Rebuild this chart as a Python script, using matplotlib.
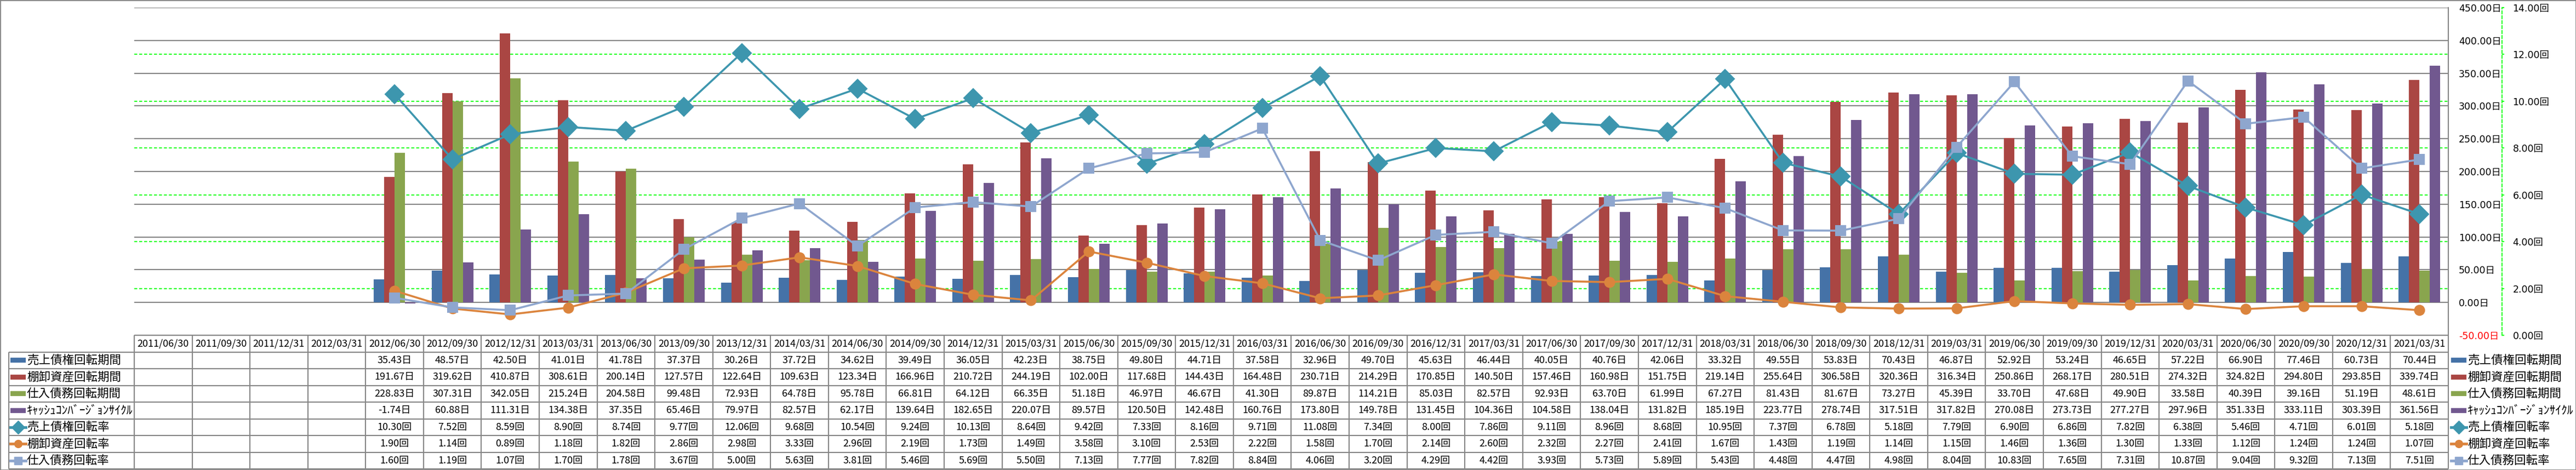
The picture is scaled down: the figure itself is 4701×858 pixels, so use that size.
import matplotlib
matplotlib.use("Agg")
import matplotlib.pyplot as plt
import matplotlib.transforms as mtransforms
from matplotlib import font_manager
from matplotlib.lines import Line2D
from matplotlib.patches import Rectangle
import numpy as np

plt.rcParams["font.family"] = ["DejaVu Sans", "Noto Sans CJK JP"]

#
# Data
#
dates = ["2011/06/30", "2011/09/30", "2011/12/31", "2012/03/31",
         "2012/06/30", "2012/09/30", "2012/12/31", "2013/03/31",
         "2013/06/30", "2013/09/30", "2013/12/31", "2014/03/31",
         "2014/06/30", "2014/09/30", "2014/12/31", "2015/03/31",
         "2015/06/30", "2015/09/30", "2015/12/31", "2016/03/31",
         "2016/06/30", "2016/09/30", "2016/12/31", "2017/03/31",
         "2017/06/30", "2017/09/30", "2017/12/31", "2018/03/31",
         "2018/06/30", "2018/09/30", "2018/12/31", "2019/03/31",
         "2019/06/30", "2019/09/30", "2019/12/31", "2020/03/31",
         "2020/06/30", "2020/09/30", "2020/12/31", "2021/03/31"]
n_blank = 4  # first four quarters have no figures

receivable_days = [35.43, 48.57, 42.50, 41.01, 41.78, 37.37, 30.26, 37.72, 34.62, 39.49, 36.05, 42.23,
                   38.75, 49.80, 44.71, 37.58, 32.96, 49.70, 45.63, 46.44, 40.05, 40.76, 42.06, 33.32,
                   49.55, 53.83, 70.43, 46.87, 52.92, 53.24, 46.65, 57.22, 66.90, 77.46, 60.73, 70.44]
inventory_days = [191.67, 319.62, 410.87, 308.61, 200.14, 127.57, 122.64, 109.63, 123.34, 166.96, 210.72, 244.19,
                  102.00, 117.68, 144.43, 164.48, 230.71, 214.29, 170.85, 140.50, 157.46, 160.98, 151.75, 219.14,
                  255.64, 306.58, 320.36, 316.34, 250.86, 268.17, 280.51, 274.32, 324.82, 294.80, 293.85, 339.74]
payable_days = [228.83, 307.31, 342.05, 215.24, 204.58, 99.48, 72.93, 64.78, 95.78, 66.81, 64.12, 66.35,
                51.18, 46.97, 46.67, 41.30, 89.87, 114.21, 85.03, 82.57, 92.93, 63.70, 61.99, 67.27,
                81.43, 81.67, 73.27, 45.39, 33.70, 47.68, 49.90, 33.58, 40.39, 39.16, 51.19, 48.61]
ccc_days = [-1.74, 60.88, 111.31, 134.38, 37.35, 65.46, 79.97, 82.57, 62.17, 139.64, 182.65, 220.07,
            89.57, 120.50, 142.48, 160.76, 173.80, 149.78, 131.45, 104.36, 104.58, 138.04, 131.82, 185.19,
            223.77, 278.74, 317.51, 317.82, 270.08, 273.73, 277.27, 297.96, 351.33, 333.11, 303.39, 361.56]
receivable_turn = [10.30, 7.52, 8.59, 8.90, 8.74, 9.77, 12.06, 9.68, 10.54, 9.24, 10.13, 8.64,
                   9.42, 7.33, 8.16, 9.71, 11.08, 7.34, 8.00, 7.86, 9.11, 8.96, 8.68, 10.95,
                   7.37, 6.78, 5.18, 7.79, 6.90, 6.86, 7.82, 6.38, 5.46, 4.71, 6.01, 5.18]
inventory_turn = [1.90, 1.14, 0.89, 1.18, 1.82, 2.86, 2.98, 3.33, 2.96, 2.19, 1.73, 1.49,
                  3.58, 3.10, 2.53, 2.22, 1.58, 1.70, 2.14, 2.60, 2.32, 2.27, 2.41, 1.67,
                  1.43, 1.19, 1.14, 1.15, 1.46, 1.36, 1.30, 1.33, 1.12, 1.24, 1.24, 1.07]
payable_turn = [1.60, 1.19, 1.07, 1.70, 1.78, 3.67, 5.00, 5.63, 3.81, 5.46, 5.69, 5.50,
                7.13, 7.77, 7.82, 8.84, 4.06, 3.20, 4.29, 4.42, 3.93, 5.73, 5.89, 5.43,
                4.48, 4.47, 4.98, 8.04, 10.83, 7.65, 7.31, 10.87, 9.04, 9.32, 7.13, 7.51]

bar_names = ["売上債権回転期間", "棚卸資産回転期間", "仕入債務回転期間", "ｷｬｯｼｭｺﾝﾊﾞｰｼﾞｮﾝｻｲｸﾙ"]
line_names = ["売上債権回転率", "棚卸資産回転率", "仕入債務回転率"]
bar_colors = ["#4572A7", "#AA4643", "#89A54E", "#71588F"]
line_colors = ["#3D96AE", "#DB843D", "#8EA6CE"]
line_markers = ["D", "o", "s"]
day_ticks = np.arange(-50, 451, 50)
turn_ticks = np.arange(0, 15, 2)

bar_series = [receivable_days, inventory_days, payable_days, ccc_days]
line_series = [receivable_turn, inventory_turn, payable_turn]

#
# Figure / fonts
#
W, H = 4701, 858
fig = plt.figure(figsize=(W / 100, H / 100), dpi=100)

jp = ["Noto Sans CJK JP", "DejaVu Sans"]
avail = {f.name for f in font_manager.fontManager.ttflist}
if "Liberation Sans Narrow" in avail:
    num_font, num_size = ["Liberation Sans Narrow", "Noto Sans CJK JP"], 16.5
else:
    num_font, num_size = ["Noto Sans CJK JP"], 13
grid_c = "#868686"

# layer for the table, in pixel coords
tab = fig.add_axes([0, 0, 1, 1])
tab.set_xlim(0, W)
tab.set_ylim(H, 0)
tab.axis("off")

# plot area
L, R, T, B = 245, 4468, 14, 612
ax = fig.add_axes([L / W, 1 - B / H, (R - L) / W, (B - T) / H])
ax2 = ax.twinx()

n = len(dates)
x = np.arange(n) + 0.5
xs = x[n_blank:]
bw = 0.18
for k, (vals, c) in enumerate(zip(bar_series, bar_colors)):
    ax.bar(xs + (k - 1.5) * bw, vals, bw, color=c, zorder=2)

ms_list = [17, 13, 13]
for vals, c, m, ms in zip(line_series, line_colors, line_markers, ms_list):
    ax2.plot(xs, vals, color=c, lw=2.6, marker=m, ms=ms, mec=c, mew=1.5, zorder=3)

ax.set_xlim(0, n)
ax.set_ylim(-50, 450)
ax.set_yticks(day_ticks)
ax.yaxis.grid(True, color=grid_c, lw=1.5)
ax.set_axisbelow(True)
ax.set_xticks([])
for s in ("left", "top", "bottom"):
    ax.spines[s].set_visible(False)
ax.spines["right"].set_color(grid_c)
ax.spines["right"].set_linewidth(1.5)
ax.yaxis.tick_right()
ax.tick_params(axis="y", length=0, pad=13.5, labelsize=12.5)
ax.set_yticklabels([f"{v:.2f}日" for v in day_ticks])
ax.get_yticklabels()[0].set_color("red")

ax2.set_ylim(0, 14)
ax2.set_yticks(turn_ticks)
ax2.set_yticklabels([f"{v:.2f}回" for v in turn_ticks])
for s in ("left", "top", "bottom"):
    ax2.spines[s].set_visible(False)
ax2.spines["right"].set_position(("axes", (4566 - L) / (R - L)))
ax2.spines["right"].set_color("#00FF00")
ax2.spines["right"].set_linestyle((0, (3, 2)))
ax2.spines["right"].set_linewidth(1.3)
ax2.tick_params(axis="y", colors="#00FF00", length=3, width=1.3, pad=11, labelsize=12.5, labelcolor="black")

# secondary grid (green dashed) behind the bars
trans = mtransforms.blended_transform_factory(ax.transAxes, ax2.transData)
for v in turn_ticks[1:-1]:
    ax.add_line(Line2D([0, 1], [v, v], transform=trans, color="#00FF00",
                       lw=1.3, ls=(0, (3, 2)), zorder=1))

#
# Data table
#
colw = (R - L) / n
row_h = 30.5
rows_y = B + row_h * np.arange(9)
tab.hlines(rows_y[0], L, R, color=grid_c, lw=1.5)
tab.hlines(rows_y[1:], 16, R, color=grid_c, lw=1.5)
tab.vlines(L + colw * np.arange(n + 1), rows_y[0], rows_y[-1], color=grid_c, lw=1.5)
tab.vlines(16, rows_y[1], rows_y[-1], color=grid_c, lw=1.5)

hy = (rows_y[0] + rows_y[1]) / 2
for j, d in enumerate(dates):
    tab.text(L + colw * (j + 0.5), hy, d, ha="center", va="center",
             family=num_font, size=num_size)

all_series = bar_series + line_series
units = ["日"] * 4 + ["回"] * 3
for r, (vals, unit) in enumerate(zip(all_series, units)):
    yc = (rows_y[r + 1] + rows_y[r + 2]) / 2
    for j, v in enumerate(vals):
        tab.text(L + colw * (j + n_blank + 0.5), yc, f"{v:.2f}{unit}", ha="center",
                 va="center", family=num_font, size=num_size)


def legend_key(x0, yc, r, name):
    if r < 4:
        tab.add_patch(Rectangle((x0, yc - 4.5), 28, 9, color=bar_colors[r], lw=0))
    else:
        i = r - 4
        tab.plot([x0, x0 + 28], [yc, yc], color=line_colors[i], lw=3.5)
        tab.plot([x0 + 14], [yc], marker=line_markers[i], color=line_colors[i],
                 ms=12 if i == 0 else 10)
    tab.text(x0 + 30, yc, name, ha="left", va="center", family=jp, size=15.5)


names = bar_names + line_names
for r, name in enumerate(names):
    yc = (rows_y[r + 1] + rows_y[r + 2]) / 2
    legend_key(19, yc, r, name)
    legend_key(4473, yc, r, name)

fig.patches.append(Rectangle((0, 0), 1, 1, transform=fig.transFigure, fill=False,
                             ec=grid_c, lw=2))

fig.savefig("out.png", dpi=100)
